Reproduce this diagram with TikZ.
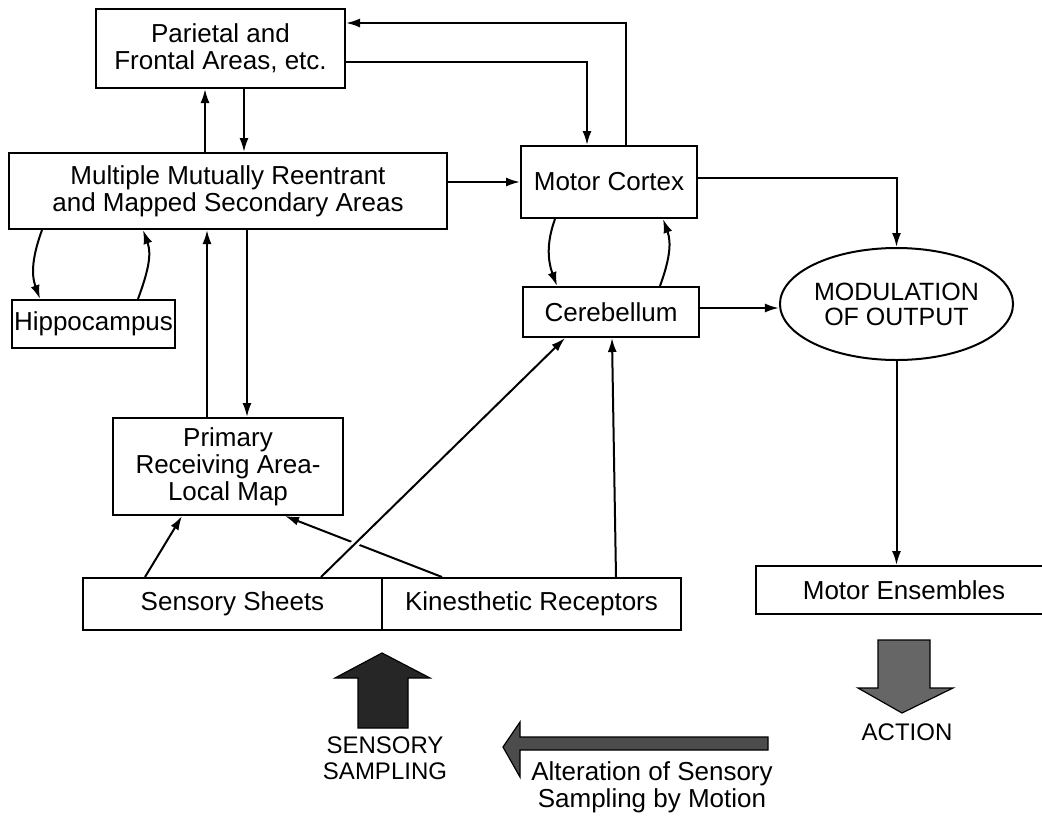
\documentclass[tikz,border=0pt]{standalone}
\usepackage{fontspec}
\setmainfont{Liberation Sans}
\usetikzlibrary{arrows.meta,shapes.geometric}
\begin{document}
\begin{tikzpicture}[x=1pt,y=-1pt,
  txt/.style={font=\fontsize{26}{27}\selectfont},
  caps/.style={font=\fontsize{24}{26}\selectfont},
  box/.style={draw, line width=2pt, inner sep=0pt, align=center, txt},
  arr/.style={line width=2pt, -{Latex[length=14pt,width=9pt]}},
  halo/.style={draw=white, line width=8pt, shorten <=30pt, shorten >=30pt},
  bigarrow/.style={draw, line width=1.2pt}]
\fill[white] (0,0) rectangle (1042,815);
\useasboundingbox (0,0) rectangle (1042,815);

% boxes
\node[box, minimum width=249pt, minimum height=79pt] (par) at (220.5,48.5) {Parietal and\\Frontal Areas, etc.};
\node[box, minimum width=438pt, minimum height=76pt] (mult) at (228,191) {Multiple Mutually Reentrant\\and Mapped Secondary Areas};
\node[box, minimum width=163pt, minimum height=48pt] (hip) at (93.5,324) {Hippocampus};
\node[box, minimum width=230pt, minimum height=97pt] (prim) at (228,466.5) {Primary\\Receiving Area-\\Local Map};
\node[box, minimum width=176pt, minimum height=72pt] (motor) at (609,182) {Motor Cortex};
\node[box, minimum width=176pt, minimum height=50pt] (cereb) at (611,312) {Cerebellum};
\node[box, ellipse, minimum width=207pt, minimum height=112pt, font=\fontsize{25}{25}\selectfont] (ell) at (896.5,304) {MODULATION\\OF OUTPUT};
\node[box, minimum width=299pt, minimum height=52pt] (sens) at (232.5,604) {Sensory Sheets};
\node[box, minimum width=299pt, minimum height=52pt] (kin) at (531.5,604) {Kinesthetic Receptors};
\node[box, minimum width=296pt, minimum height=48pt] (ens) at (904,590) {Motor Ensembles};

% connectors
\draw[arr] ([xshift=17pt]motor.north) |- ([yshift=25.5pt]par.east);
\draw[arr] ([yshift=-13.5pt]par.east) -| ([xshift=-22pt]motor.north);
\draw[arr] ([xshift=-23pt]mult.north) -- ([xshift=-15.5pt]par.south);
\draw[arr] ([xshift=23.5pt]par.south) -- ([xshift=16pt]mult.north);
\draw[arr] ([yshift=9pt]mult.east) -- (motor.west);
\draw[arr] ([yshift=4pt]motor.east) -| (ell.north);
\draw[arr] ([yshift=4pt]cereb.east) -- ([yshift=-4pt]ell.west);
\draw[arr] (ell.south) -- (ell.south |- ens.north);
\draw[arr] ([xshift=-186pt]mult.south) to[out=250,in=110] ([xshift=-53.5pt]hip.north);
\draw[arr] ([xshift=44.5pt]hip.north) to[out=70,in=-70] ([xshift=-85pt]mult.south);
\draw[arr] ([xshift=-54pt]motor.south) to[out=250,in=110] ([xshift=-54pt]cereb.north);
\draw[arr] ([xshift=49pt]cereb.north) to[out=70,in=-70] ([xshift=54pt]motor.south);
\draw[arr] ([xshift=-21pt]prim.north) -- ([xshift=-21pt]mult.south);
\draw[arr] ([xshift=19pt]mult.south) -- ([xshift=19pt]prim.north);
\draw[arr] ([xshift=-87.5pt]sens.north) -- ([xshift=-46pt]prim.south);
\draw[arr] ([xshift=-89.5pt]kin.north) -- ([xshift=57pt]prim.south);
\path[halo] ([xshift=88.5pt]sens.north) -- ([xshift=-46pt]cereb.south);
\draw[arr] ([xshift=88.5pt]sens.north) -- ([xshift=-46pt]cereb.south);
\draw[arr] ([xshift=84.5pt]kin.north) -- ([xshift=1pt]cereb.south);

% big arrows
\draw[bigarrow, fill=black!85] (358,728) -- (358,678) -- (335,678) -- (382,653) -- (430,678) -- (408,678) -- (408,728) -- cycle;
\draw[bigarrow, fill=black!60] (878,640) -- (930,640) -- (930,688) -- (953,688) -- (902,713) -- (858,688) -- (878,688) -- cycle;
\draw[bigarrow, fill=black!70] (768,737) -- (520,737) -- (520,722) -- (503,747) -- (520,777) -- (520,750) -- (768,750) -- cycle;

% labels
\node[caps, align=center] (ss) at (385,758.5) {SENSORY\\SAMPLING};
\node[caps] (act) at (907,732) {ACTION};
\node[txt, align=center] (alt) at (652,787.5) {Alteration of Sensory\\Sampling by Motion};
\end{tikzpicture}
\end{document}
